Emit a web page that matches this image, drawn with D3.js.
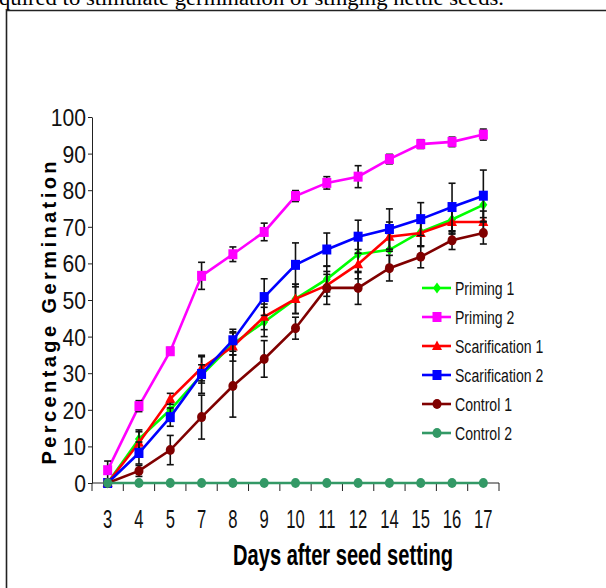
<!DOCTYPE html>
<html>
<head>
<meta charset="utf-8">
<script src="https://cdn.jsdelivr.net/npm/d3@7"></script>
<style>
  body { margin: 0; background: #fff; }
  svg { display: block; }
</style>
</head>
<body>
<svg width="606" height="588"></svg>
<script>
// days after seed setting (category axis)
var days = ["3", "4", "5", "7", "8", "9", "10", "11", "12", "14", "15", "16", "17"];
var yTicks = [0, 10, 20, 30, 40, 50, 60, 70, 80, 90, 100];

// percentage germination
var priming1 = [0, 12, 20, 29.5, 38, 44, 50.3, 55.7, 62.5, 63.7, 68.6, 72, 76];
var priming2 = [3.5, 21, 36, 56.6, 62.5, 68.6, 78.4, 82, 83.7, 88.5, 92.6, 93.2, 95.2];
var scarification1 = [0, 11, 23, 31.4, 37.3, 45.4, 50.3, 54, 59.8, 67.3, 68.3, 71.3, 71.3];
var scarification2 = [0, 8.2, 18, 29.8, 39, 50.8, 59.6, 63.8, 67.3, 69.4, 72.1, 75.4, 78.5];
var control1 = [0, 3.3, 9, 18, 26.5, 33.9, 42.3, 53.3, 53.3, 58.7, 61.8, 66.3, 68.3];
var control2 = [0, 0, 0, 0, 0, 0, 0, 0, 0, 0, 0, 0, 0];

// error bars (+/-)
var priming1Err = [0, 2.5, 2, 5, 3, 4, 4, 3.5, 5, 4.5, 4, 4, 3.5];
var priming2Err = [2.5, 1.5, 1, 3.7, 2, 2.4, 1.5, 1.7, 3, 1.3, 1.2, 1.3, 1.5];
var scarification1Err = [0, 3, 1.5, 3.5, 4, 3.5, 4, 3, 4, 4, 3.5, 3, 3];
var scarification2Err = [0, 3, 2.5, 2.5, 3, 5, 6, 4.5, 4.5, 5.5, 4.5, 6.5, 7];
var control1Err = [0, 1.5, 4, 6, 8.5, 5, 3, 4.5, 4.5, 3.5, 3, 2.5, 3];

var series = [
  {name: "Priming 1", values: priming1, err: priming1Err, color: "#00ff00", shape: "diamond"},
  {name: "Priming 2", values: priming2, err: priming2Err, color: "#ff00ff", shape: "square"},
  {name: "Scarification 1", values: scarification1, err: scarification1Err, color: "#ff0000", shape: "triangle"},
  {name: "Scarification 2", values: scarification2, err: scarification2Err, color: "#0000ff", shape: "square"},
  {name: "Control 1", values: control1, err: control1Err, color: "#800000", shape: "circle"},
  {name: "Control 2", values: control2, err: null, color: "#339966", shape: "circle"}
];

var svg = d3.select("svg");

// page text above the figure box (cut off at the top)
svg.append("text")
    .attr("x", -1).attr("y", 4.5)
    .attr("textLength", 505)
    .attr("lengthAdjust", "spacingAndGlyphs")
    .style("font-family", "'Liberation Serif', 'Times New Roman', serif")
    .style("font-size", "20px")
    .text("quired to stimulate germination of stinging nettle seeds.");

// figure frame
svg.append("path")
    .attr("d", "M6.5,588V10.5H606")
    .attr("fill", "none")
    .attr("stroke", "#222")
    .attr("stroke-width", 1.6);

var x = d3.scaleBand().domain(days).range([92, 499]);
var y = d3.scaleLinear().domain([0, 100]).range([483, 117]);
function cx(i) { return x(days[i]) + x.bandwidth() / 2; }

// y axis
var yAxis = svg.append("g")
    .attr("transform", "translate(92,0)")
    .call(d3.axisLeft(y).tickValues(yTicks).tickSize(4).tickSizeOuter(0));
yAxis.select(".domain").attr("stroke", "#222");
yAxis.selectAll(".tick line").attr("stroke", "#222");
yAxis.selectAll(".tick text")
    .attr("x", null)
    .attr("dy", null)
    .attr("transform", "translate(-6,8.5) scale(0.88,1)")
    .style("font-family", "'Liberation Sans', Arial, sans-serif")
    .style("font-size", "24px")
    .style("fill", "#111");

// x axis: line plus ticks between categories
var xg = svg.append("g");
xg.append("line")
    .attr("x1", x.range()[0]).attr("x2", x.range()[1])
    .attr("y1", y(0)).attr("y2", y(0))
    .attr("stroke", "#222");
var bounds = days.map(function(d) { return x(d); }).concat([x.range()[1]]);
xg.selectAll("line.tk")
    .data(bounds)
    .enter().append("line")
    .attr("class", "tk")
    .attr("x1", function(d) { return d; }).attr("x2", function(d) { return d; })
    .attr("y1", y(0)).attr("y2", y(0) + 8)
    .attr("stroke", "#222");
xg.selectAll("text")
    .data(days)
    .enter().append("text")
    .attr("transform", function(d) { return "translate(" + (x(d) + x.bandwidth() / 2) + ",528) scale(0.64,1)"; })
    .attr("text-anchor", "middle")
    .style("font-family", "'Liberation Sans', Arial, sans-serif")
    .style("font-size", "26px")
    .style("fill", "#111")
    .text(function(d) { return d; });

// axis titles
svg.append("text")
    .attr("transform", "translate(343,565) scale(0.67,1)")
    .attr("text-anchor", "middle")
    .style("font-family", "'Liberation Sans', Arial, sans-serif")
    .style("font-weight", "bold")
    .style("font-size", "30px")
    .text("Days after seed setting");

svg.append("text")
    .attr("transform", "translate(56,313) rotate(-90)")
    .attr("text-anchor", "middle")
    .attr("textLength", 303)
    .attr("lengthAdjust", "spacing")
    .style("font-family", "'Liberation Sans', Arial, sans-serif")
    .style("font-weight", "bold")
    .style("font-size", "20px")
    .text("Percentage Germination");

function marker(g, shape, color, px, py) {
  if (shape === "square") {
    g.append("rect").attr("x", px - 4.5).attr("y", py - 5).attr("width", 9).attr("height", 10).attr("fill", color);
  } else if (shape === "diamond") {
    g.append("path").attr("d", "M" + px + "," + (py - 5.5) + "L" + (px + 4) + "," + py + "L" + px + "," + (py + 5.5) + "L" + (px - 4) + "," + py + "Z").attr("fill", color);
  } else if (shape === "triangle") {
    g.append("path").attr("d", "M" + px + "," + (py - 5.5) + "L" + (px + 5) + "," + (py + 4) + "L" + (px - 5) + "," + (py + 4) + "Z").attr("fill", color);
  } else {
    g.append("ellipse").attr("cx", px).attr("cy", py).attr("rx", 4.5).attr("ry", 5).attr("fill", color);
  }
}

var line = d3.line()
    .x(function(d, i) { return cx(i); })
    .y(function(d) { return y(d); });

series.forEach(function(s) {
  var g = svg.append("g");
  g.append("path")
      .datum(s.values)
      .attr("d", line)
      .attr("fill", "none")
      .attr("stroke", s.color)
      .attr("stroke-width", 2.6);
  if (s.err) {
    s.values.forEach(function(v, i) {
      var e = s.err[i];
      if (!e) return;
      var px = cx(i);
      var eb = g.append("g").attr("stroke", "#111").attr("stroke-width", 1.6);
      eb.append("line").attr("x1", px).attr("x2", px).attr("y1", y(v - e)).attr("y2", y(v + e));
      eb.append("line").attr("x1", px - 3.5).attr("x2", px + 3.5).attr("y1", y(v - e)).attr("y2", y(v - e));
      eb.append("line").attr("x1", px - 3.5).attr("x2", px + 3.5).attr("y1", y(v + e)).attr("y2", y(v + e));
    });
  }
  s.values.forEach(function(v, i) { marker(g, s.shape, s.color, cx(i), y(v)); });
});

// legend
var legend = svg.append("g");
series.forEach(function(s, i) {
  var ly = 288 + i * 29;
  legend.append("line")
      .attr("x1", 422).attr("x2", 451)
      .attr("y1", ly).attr("y2", ly)
      .attr("stroke", s.color)
      .attr("stroke-width", 2.6);
  marker(legend, s.shape, s.color, 437, ly);
  legend.append("text")
      .attr("transform", "translate(455," + (ly + 7) + ") scale(0.74,1)")
      .style("font-family", "'Liberation Sans', Arial, sans-serif")
      .style("font-size", "19px")
      .style("fill", "#111")
      .text(s.name);
});
</script>
</body>
</html>
